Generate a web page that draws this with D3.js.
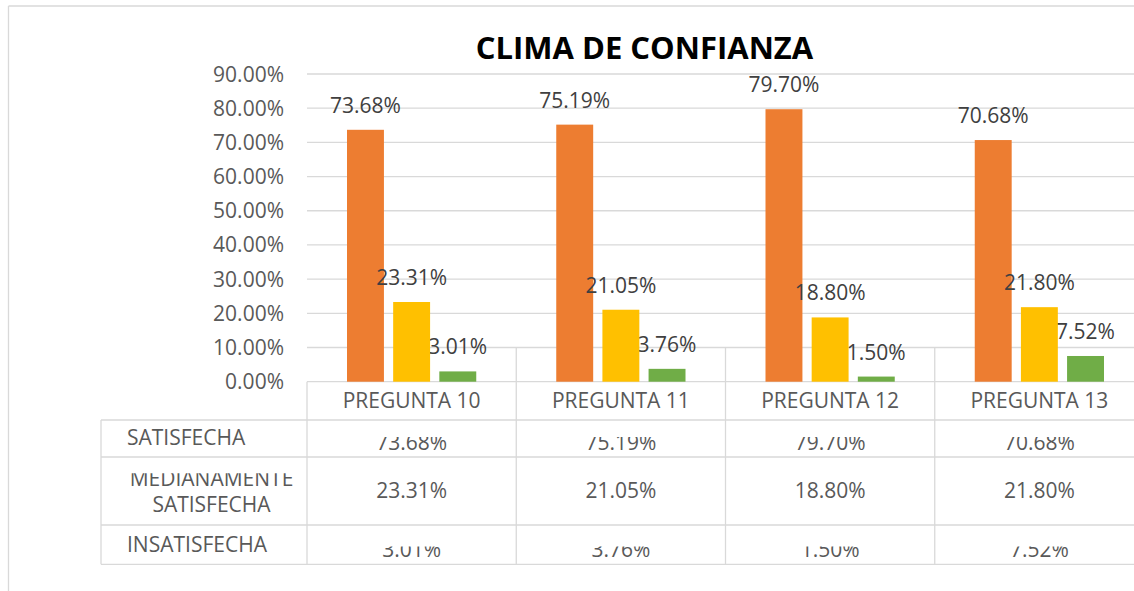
<!DOCTYPE html>
<html>
<head>
<meta charset="utf-8">
<script src="https://cdn.jsdelivr.net/npm/d3@7"></script>
<style>
  html, body { margin: 0; padding: 0; background: #fff; }
  svg { display: block; }
  text { font-family: "Open Sans", "Noto Sans", sans-serif; }
</style>
</head>
<body>
<svg id="chart" width="1134" height="591"></svg>
<script>
const title = "CLIMA DE CONFIANZA";
const categories = ["PREGUNTA 10", "PREGUNTA 11", "PREGUNTA 12", "PREGUNTA 13"];
const seriesNames = ["SATISFECHA", "MEDIANAMENTE SATISFECHA", "INSATISFECHA"];
const satisfecha = [0.7368, 0.7519, 0.7970, 0.7068];
const medianamente = [0.2331, 0.2105, 0.1880, 0.2180];
const insatisfecha = [0.0301, 0.0376, 0.0150, 0.0752];
const seriesColors = ["#ED7D31", "#FFC000", "#70AD47"];
const yTicks = [0, 0.1, 0.2, 0.3, 0.4, 0.5, 0.6, 0.7, 0.8, 0.9];

const seriesValues = [satisfecha, medianamente, insatisfecha];
const fmt = v => (v * 100).toFixed(2) + "%";

const svg = d3.select("#chart");
const grid = "#d9d9d9";
const textGray = "#595959";
const labelGray = "#404040";

// layout
const plotLeft = 307, plotRight = 1144;
const plotTop = 74, plotBottom = 381.7;
const tableLeft = 101;
const rowY = [381.7, 420, 457, 525, 564.3];

const x0 = d3.scaleBand().domain(categories).range([plotLeft, plotRight]).padding(0);
const x1 = d3.scaleBand().domain(d3.range(seriesNames.length)).range([40, x0.bandwidth() - 40]).paddingInner(0.2).paddingOuter(0);
const y = d3.scaleLinear().domain([0, 0.9]).range([plotBottom, plotTop]);

// outer border
svg.append("line").attr("x1", 8.5).attr("x2", 1134).attr("y1", 6).attr("y2", 6).attr("stroke", grid).attr("stroke-width", 1.3);
svg.append("line").attr("x1", 8.5).attr("x2", 8.5).attr("y1", 6).attr("y2", 591).attr("stroke", grid).attr("stroke-width", 1.3);

// title
svg.append("text").attr("x", 644.5).attr("y", 58.5).attr("text-anchor", "middle")
  .attr("font-size", 31).attr("font-weight", 700).attr("fill", "#000").text(title);

// gridlines
svg.append("g").selectAll("line").data(yTicks.filter(t => t > 0)).join("line")
  .attr("x1", plotLeft).attr("x2", plotRight)
  .attr("y1", d => y(d)).attr("y2", d => y(d))
  .attr("stroke", grid).attr("stroke-width", 1.3);

// y axis labels
svg.append("g").selectAll("text").data(yTicks).join("text")
  .attr("x", 284).attr("y", d => y(d) + 7.5)
  .attr("text-anchor", "end").attr("font-size", 21).attr("fill", textGray)
  .text(d => fmt(d));

// category boundary verticals (extend up to 10% gridline)
const bounds = categories.map(c => x0(c)).concat([plotRight]);
svg.append("g").selectAll("line").data(bounds).join("line")
  .attr("x1", d => d).attr("x2", d => d)
  .attr("y1", (d, i) => i === 0 ? plotBottom : y(0.1)).attr("y2", rowY[4])
  .attr("stroke", grid).attr("stroke-width", 1.3);

// table horizontal lines
svg.append("line").attr("x1", plotLeft).attr("x2", plotRight).attr("y1", rowY[0]).attr("y2", rowY[0]).attr("stroke", grid).attr("stroke-width", 1.3);
rowY.slice(1).forEach(yy => {
  svg.append("line").attr("x1", tableLeft).attr("x2", plotRight).attr("y1", yy).attr("y2", yy).attr("stroke", grid).attr("stroke-width", 1.3);
});
svg.append("line").attr("x1", tableLeft).attr("x2", tableLeft).attr("y1", rowY[1]).attr("y2", rowY[4]).attr("stroke", grid).attr("stroke-width", 1.3);

function drawBars(s) {
  svg.append("g").selectAll("rect").data(seriesValues[s]).join("rect")
    .attr("x", (d, i) => x0(categories[i]) + x1(s))
    .attr("width", x1.bandwidth())
    .attr("y", d => y(d))
    .attr("height", d => y(0) - y(d))
    .attr("fill", seriesColors[s]);
}

// first series bars, then data labels, then remaining bars
drawBars(0);
const labelG = svg.append("g");
seriesValues.forEach((vals, s) => {
  labelG.selectAll(null).data(vals).join("text")
    .attr("x", (d, i) => x0(categories[i]) + x1(s) + x1.bandwidth() / 2)
    .attr("y", d => y(d) - 17)
    .attr("text-anchor", "middle").attr("font-size", 21).attr("fill", labelGray)
    .text(d => fmt(d));
});
drawBars(1);
drawBars(2);

// clip paths for the table's clipped text
const defs = svg.append("defs");
const clipRows = [[437, 457], [0, 0], [546.5, 564]];
clipRows.forEach((r, i) => {
  if (r[1] > 0) defs.append("clipPath").attr("id", "clipRow" + i)
    .append("rect").attr("x", 0).attr("y", r[0]).attr("width", 1200).attr("height", r[1] - r[0]);
});
defs.append("clipPath").attr("id", "clipMed").append("rect")
  .attr("x", 0).attr("y", 473.3).attr("width", 400).attr("height", 60);

// header categories
svg.append("g").selectAll("text").data(categories).join("text")
  .attr("x", d => x0(d) + x0.bandwidth() / 2).attr("y", 408)
  .attr("text-anchor", "middle").attr("font-size", 21).attr("fill", textGray)
  .text(d => d);

// row labels
svg.append("text").attr("x", 127).attr("y", 445).attr("font-size", 21).attr("fill", textGray).text(seriesNames[0]);
const medParts = seriesNames[1].split(" ");
svg.append("text").attr("x", 211.5).attr("y", 486).attr("text-anchor", "middle").attr("font-size", 21).attr("fill", textGray)
  .attr("clip-path", "url(#clipMed)").text(medParts[0]);
svg.append("text").attr("x", 211.5).attr("y", 512).attr("text-anchor", "middle").attr("font-size", 21).attr("fill", textGray).text(medParts[1]);
svg.append("text").attr("x", 127).attr("y", 552).attr("font-size", 21).attr("fill", textGray).text(seriesNames[2]);

// table values
const valueBaselines = [450, 498, 557];
seriesValues.forEach((vals, s) => {
  const g = svg.append("g");
  if (s !== 1) g.attr("clip-path", "url(#clipRow" + s + ")");
  g.selectAll("text").data(vals).join("text")
    .attr("x", (d, i) => x0(categories[i]) + x0.bandwidth() / 2)
    .attr("y", valueBaselines[s])
    .attr("text-anchor", "middle").attr("font-size", 21).attr("fill", textGray)
    .text(d => fmt(d));
});
</script>
</body>
</html>
